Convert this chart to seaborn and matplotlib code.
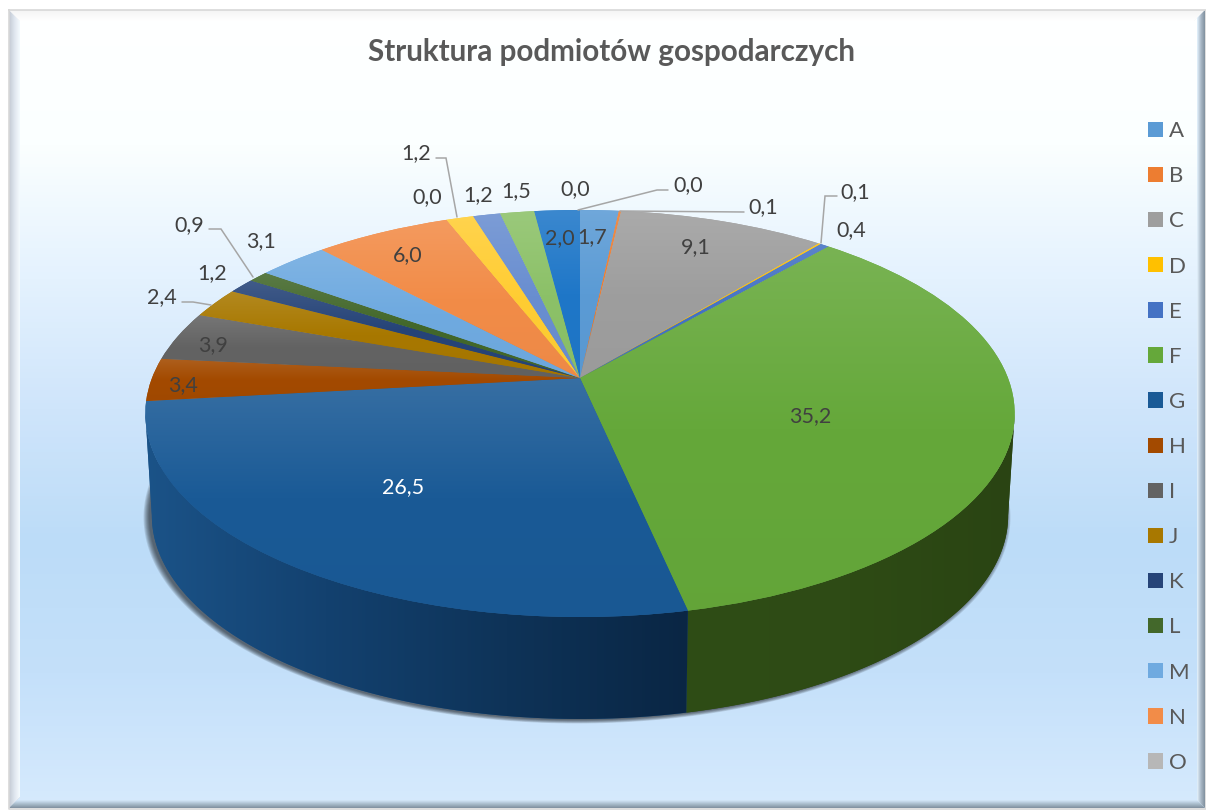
"""
Struktura podmiotow gospodarczych - tilted 3D pie with gradient fills.
"""
import numpy as np
import matplotlib.pyplot as plt
import matplotlib.transforms as mtransforms
import seaborn as sns
from matplotlib.colors import to_rgb

# ============================================================
# Data
# ============================================================
SECTIONS = list("ABCDEFGHIJKLMNOPQRSTU")
VALUES = [1.7, 0.1, 9.1, 0.1, 0.4, 35.2, 26.5, 3.4, 3.9, 2.4, 1.2,
          0.9, 3.1, 6.0, 0.0, 1.2, 1.2, 1.5, 2.0, 0.0, 0.0]
COLORS = ["#5B9BD5", "#ED7D31", "#9E9E9E", "#FFC000", "#4472C4", "#65A83A", "#1A5A96",
          "#A34A00", "#636363", "#A87800", "#264478", "#43682B", "#6FAAE0", "#F28C48",
          "#B7B7B7", "#FFCD33", "#698ED0", "#8CC168", "#1F77C8", "#D26012", "#A5A5A5"]
TITLE = "Struktura podmiotów gospodarczych"
N_LEGEND = 15

# label centres in figure pixels, same order as SECTIONS
LABEL_X = [592, 763, 696, 855, 851, 810, 403, 183, 213, 162, 212,
           189, 261, 408, 427, 416, 478, 516, 560, 575, 688]
LABEL_Y = [237, 207, 247, 192, 230, 416, 487, 385, 345, 297, 273,
           225, 241, 255, 197, 153, 195, 191, 238, 189, 185]

# leader lines as (xs, ys) in figure pixels
LEADERS = [
    ([744, 620], [212, 211]),
    ([837, 825, 821], [196, 196, 243]),
    ([182, 193, 211], [302, 302, 305]),
    ([209, 221, 253], [229, 229, 277]),
    ([436, 446, 457], [158, 158, 217]),
    ([668, 657, 578], [190, 190, 210]),
]

W, H = 1206, 810

# projection of the unit disc to the picture
CX, CY = 580, 378
R, P, K = 428.0, 197.3, 0.1744
DEPTH, BASE_SHRINK = 102, 0.985


def project(u, v, depth=0.0, shrink=1.0):
    w = 1 + K * v
    return CX + shrink * R * u / w, CY + depth - P * v / w


class Tilt(mtransforms.Transform):
    input_dims = 2
    output_dims = 2
    has_inverse = False

    def transform_non_affine(self, values):
        x, y = project(values[:, 0], values[:, 1])
        return np.column_stack([x, y])


def mix(color, other, t):
    a, b = np.array(to_rgb(color)), np.array(to_rgb(other))
    return tuple(a * (1 - t) + b * t)


def gradient(ax, stops, extent, horizontal=False, clip=None, zorder=1):
    cmap = sns.blend_palette(stops, as_cmap=True)
    ramp = np.linspace(0, 1, 256)
    ramp = ramp[None, :] if horizontal else ramp[:, None]
    im = ax.imshow(ramp, cmap=cmap, extent=extent, aspect='auto', origin='upper',
                   interpolation='bilinear', vmin=0, vmax=1, zorder=zorder)
    if clip is not None:
        im.set_clip_path(clip)
    return im


sns.set_theme(style='white')
plt.rcParams['font.family'] = ['Lato', 'DejaVu Sans']

fig = plt.figure(figsize=(W / 100, H / 100), dpi=100, facecolor='white')
ax = fig.add_axes([0, 0, 1, 1])
palette = sns.color_palette(COLORS)

# ============================================================
# Background and bevelled frame
# ============================================================
gradient(ax, ['#ffffff', '#fbffff', '#e4f2fe', '#cfe5fb', '#bcdcf8', '#c4e0fa', '#d6eafd'],
         (9, 1205, 808, 10), zorder=0)


def bevel(xs, ys, stops, extent, horizontal):
    poly = ax.fill(xs, ys, color=stops[0], lw=0, zorder=0.5)[0]
    gradient(ax, stops, extent, horizontal, clip=poly, zorder=0.6)


bevel([9, 20, 20, 9], [10, 21, 797, 808], ['#c3c9d3', '#dfe6ef', '#f5fbff'], (9, 20, 808, 10), True)
bevel([9, 1205, 1194, 20], [10, 10, 21, 21], ['#f4f4f4', '#ffffff'], (9, 1205, 21, 10), False)
bevel([1205, 1197, 1197, 1205], [10, 18, 800, 808], ['#e6f4ff', '#a9b8c6', '#7f8f9d'], (1197, 1205, 808, 10), True)
bevel([9, 1205, 1197, 17], [808, 808, 800, 800], ['#d6e9fb', '#a9bccb', '#7f8f9d'], (9, 1205, 808, 800), False)
ax.plot([8.5, 1205.5, 1205.5, 8.5, 8.5], [9.5, 9.5, 808.5, 808.5, 9.5], color='#d8d8d8', lw=1.2, zorder=0.7)

# ============================================================
# Pie
# ============================================================
wedges, _ = ax.pie(VALUES, colors=palette, startangle=90, counterclock=False,
                   normalize=True, wedgeprops=dict(lw=0))
ax.set_aspect('auto')

tilt = Tilt() + ax.transData
fractions = np.cumsum(VALUES) / np.sum(VALUES)
edges = np.concatenate([[0.0], fractions]) * 2 * np.pi

# soft shadow under the base
t = np.linspace(0, 2 * np.pi, 361)
for i in range(7):
    grow = 1 + 0.002 * i
    sx, sy = project(np.sin(t) * grow, np.cos(t) * grow, depth=DEPTH, shrink=BASE_SHRINK)
    ax.fill(sx - 3, sy + 1, color='#15181c', alpha=0.12, lw=0, zorder=1)

# side walls, only the part facing the viewer
front_start, front_end = np.arccos(-K), 2 * np.pi - np.arccos(-K)
WALL_STOPS = {5: ['#2a4413', '#2e4b15', '#2f4d16'], 6: ['#1b5388', '#13416f', '#0e3358', '#0a2644']}
for i, stops in WALL_STOPS.items():
    a0, a1 = max(edges[i], front_start), min(edges[i + 1], front_end)
    ang = np.linspace(a0, a1, 120)
    tx, ty = project(np.sin(ang), np.cos(ang))
    bx, by = project(np.sin(ang), np.cos(ang), DEPTH, BASE_SHRINK)
    xs, ys = np.r_[tx, bx[::-1]], np.r_[ty, by[::-1]]
    poly = ax.fill(xs, ys, color=stops[0], lw=0, zorder=2)[0]
    ext = (xs.min(), xs.max(), ys.max(), ys.min())
    gradient(ax, stops if i == 6 else stops[::-1], ext, True, clip=poly, zorder=2.1)

# top faces
for wedge, color in zip(wedges, palette):
    wedge.set_transform(tilt)
    wedge.set_zorder(3)
    if wedge.theta2 - wedge.theta1 < 1e-6:
        continue
    ang = np.radians(90 - np.linspace(wedge.theta1, wedge.theta2, 60))
    px, py = project(np.r_[0, np.sin(ang)], np.r_[0, np.cos(ang)])
    stops = [mix(color, '#ffffff', 0.13), color, mix(color, '#000000', 0.02)]
    gradient(ax, stops, (px.min() - 2, px.max() + 2, py.max() + 2, py.min() - 2),
             clip=wedge, zorder=3.1)

# ============================================================
# Labels and leaders
# ============================================================
for xs, ys in LEADERS:
    ax.plot(xs, ys, color='#a6a6a6', lw=1.1, zorder=4, solid_joinstyle='miter')

for name, value, x, y in zip(SECTIONS, VALUES, LABEL_X, LABEL_Y):
    ax.text(x, y, f"{value:.1f}".replace('.', ','), ha='center', va='center', fontsize=15.5,
            color='white' if name == 'G' else '#404040', zorder=5)

ax.text(611, 52, TITLE, ha='center', va='center', fontsize=21.3, fontweight='bold', color='#595959', zorder=5)

ax.legend(wedges[:N_LEGEND], SECTIONS[:N_LEGEND], loc='center left', bbox_to_anchor=(1148, 447),
          bbox_transform=ax.transData, frameon=False, fontsize=16, handlelength=0.68, handleheight=0.68,
          handletextpad=0.25, labelspacing=1.13, labelcolor='#595959', borderpad=0, borderaxespad=0)

ax.set_xlim(0, W)
ax.set_ylim(H, 0)
ax.axis('off')
fig.savefig('out.png', dpi=100)
